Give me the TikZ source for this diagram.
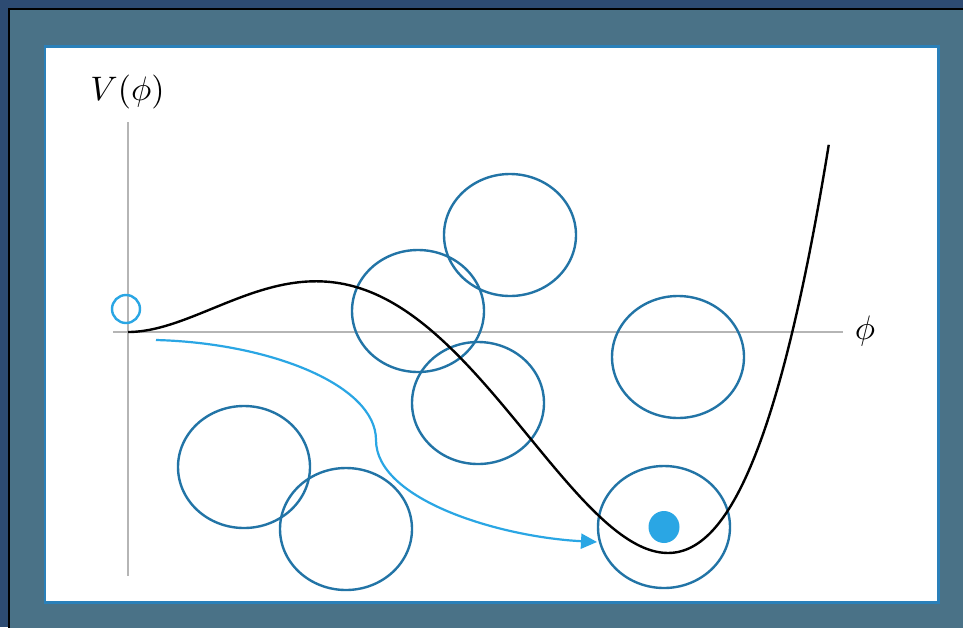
\documentclass[tikz,border=0pt]{standalone}
\usepackage{graphicx}
\usetikzlibrary{arrows.meta}
\definecolor{outerblue}{HTML}{2D4B72}
\definecolor{slate}{HTML}{4A7287}
\definecolor{panelborder}{HTML}{2A80B9}
\definecolor{ringblue}{HTML}{2274A6}
\definecolor{lightblue}{HTML}{2AA6E4}
\definecolor{axisgray}{HTML}{B5B5B5}
\begin{document}
\begin{tikzpicture}[x=1pt,y=-1pt,
  ring/.style={draw=ringblue,line width=2.4pt},
  axisline/.style={draw=axisgray,line width=1.1pt},
  lbl/.style={inner sep=0pt}]
\useasboundingbox (0,0) rectangle (963,627);
\fill[outerblue] (0,0) rectangle (963,627);
\begin{scope}
\clip (0,0) rectangle (963,627);
\filldraw[fill=slate,draw=black,line width=2pt] (9,9) rectangle (975,640);
\end{scope}
\filldraw[fill=white,draw=panelborder,line width=2.2pt] (45,46.5) rectangle (938.5,602.5);
% axes
\draw[axisline] (128,122) -- (128,576);
\draw[axisline] (113,332) -- (843,332);
\node[lbl] (vlab) at (127.5,91.5) {\scalebox{3.4}{$V(\phi)$}};
\node[lbl] (philab) at (865,331) {\scalebox{3.4}{$\phi$}};
% circles
\draw[ring] (510,235) ellipse [x radius=66, y radius=61];
\draw[ring] (418,311) ellipse [x radius=66, y radius=61];
\draw[ring] (478,403) ellipse [x radius=66, y radius=61];
\draw[ring] (678,357) ellipse [x radius=66, y radius=61];
\draw[ring] (244,467) ellipse [x radius=66, y radius=61];
\draw[ring] (346,529) ellipse [x radius=66, y radius=61];
\draw[ring] (664,527) ellipse [x radius=66, y radius=61];
% potential
\draw[black,line width=2.4pt,line join=round]
  plot[domain=0:7.01,samples=220,smooth]
  ({128+100*\x},{332-2.567*(\x*\x*\x*\x-9.7067*\x*\x*\x+20.304*\x*\x)-2.9*(max(\x-5.4,0))^3});
% false vacuum ring and true vacuum dot
\draw[lightblue,line width=2.4pt] (126,309) circle [radius=14];
\fill[lightblue] (664,527) ellipse [x radius=15.5, y radius=16];
% tunnelling arrow
\coordinate (astart) at (156,340);
\coordinate (amid) at (376,440);
\coordinate (aend) at (597,542);
\draw[lightblue,line width=2.2pt,-{Triangle[length=16pt,width=15pt]}]
  (astart) .. controls (270,343) and (376,385) .. (amid)
  .. controls (376,500) and (500,537) .. (aend);
\end{tikzpicture}
\end{document}
